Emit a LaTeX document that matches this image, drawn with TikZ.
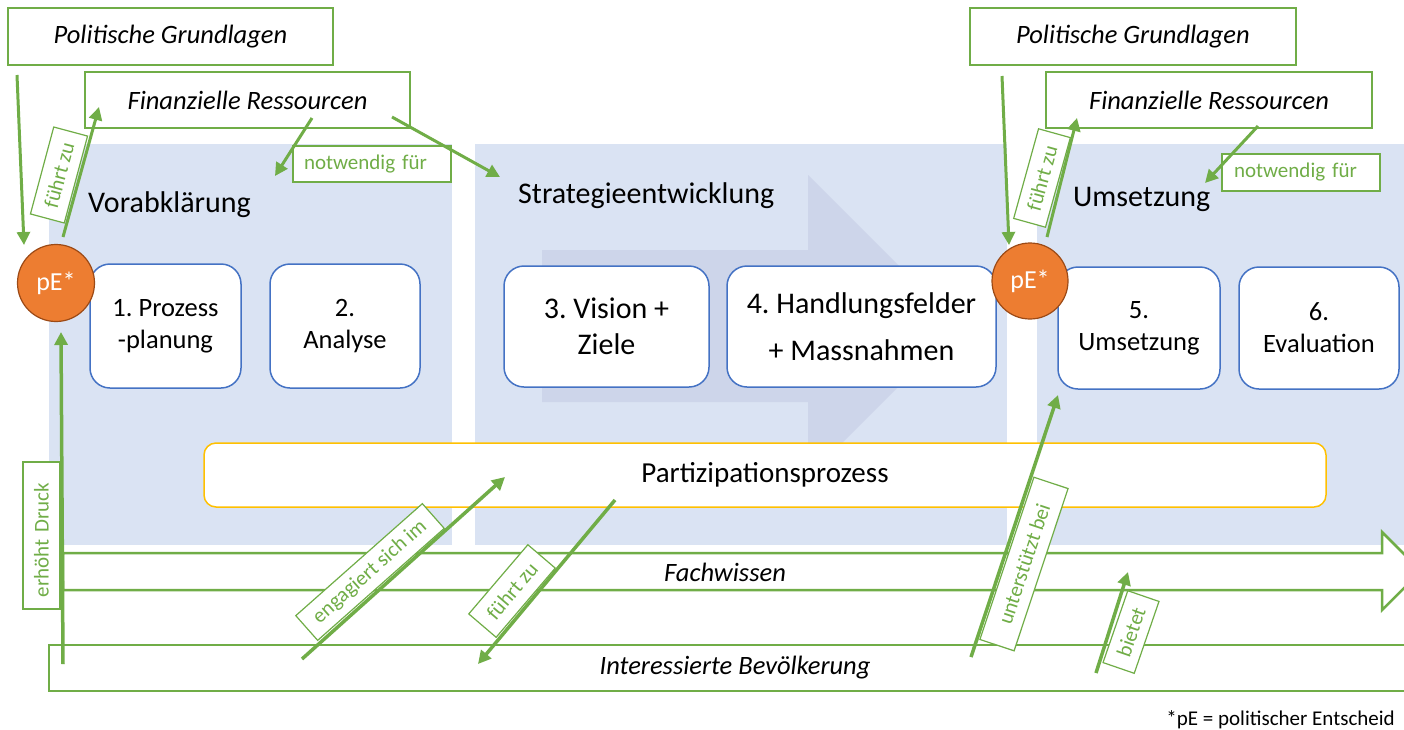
\documentclass[tikz,border=0pt]{standalone}
\usepackage{fontspec}
\setmainfont{Carlito}
\usetikzlibrary{arrows.meta}
\definecolor{panelblue}{HTML}{DAE3F3}
\definecolor{bgarrow}{HTML}{CDD5EA}
\definecolor{grn}{HTML}{70AD47}
\definecolor{boxblue}{HTML}{4472C4}
\definecolor{orng}{HTML}{ED7D31}
\definecolor{orngdark}{HTML}{9C4A16}
\definecolor{ylw}{HTML}{FFC000}
\frenchspacing
\begin{document}
\begin{tikzpicture}[x=1pt,y=-1pt,
  panel/.style={fill=panelblue},
  srcbox/.style={draw=grn, line width=2.5pt, fill=white, inner sep=0pt, font=\fontsize{26.5}{32}\selectfont\itshape},
  stepbox/.style={draw=boxblue, line width=1.5pt, fill=white, rounded corners=20pt, inner sep=0pt, align=center},
  smalltxt/.style={font=\fontsize{26.5}{32}\selectfont},
  largetxt/.style={font=\fontsize{30}{36}\selectfont},
  headtxt/.style={font=\fontsize{30}{36}\selectfont, anchor=base west, inner sep=0pt},
  pe/.style={circle, fill=orng, draw=orngdark, line width=1.2pt, minimum size=77pt, inner sep=0pt, text=white, font=\fontsize{26}{30}\selectfont},
  lbl/.style={draw=grn, line width=1.2pt, fill=white, text=grn, inner sep=0pt, font=\fontsize{21}{25}\selectfont, minimum height=35pt},
  arr/.style={draw=grn, line width=3.5pt, -{Triangle[length=13pt,width=13pt]}},
  flow/.style={draw=grn, line width=2.5pt, fill=white, line join=miter},
]
\useasboundingbox (0,0) rectangle (1404,729);
\clip (0,0) rectangle (1404,729);

% panels
\fill[panel] (49,144) rectangle (452,545);
\fill[panel] (475,144) rectangle (1007,545);
\fill[panel] (1037,144) rectangle (1412,545);

% background process arrow
\fill[bgarrow] (542,250) -- (808,250) -- (808,175) -- (959,326) -- (808,477) -- (808,402) -- (542,402) -- cycle;

% headings
\node[headtxt] (hVor) at (88,212) {Vorabklärung};
\node[headtxt] (hStr) at (518,203) {Strategieentwicklung};
\node[headtxt] (hUms) at (1073,206) {Umsetzung};

% source boxes
\node[srcbox, minimum width=325pt, minimum height=57pt] (pgL) at (170.5,36.5) {Politische Grundlagen};
\node[srcbox, minimum width=325pt, minimum height=56pt] (frL) at (247.5,100) {Finanzielle Ressourcen};
\node[srcbox, minimum width=326pt, minimum height=57pt] (pgR) at (1133,36.5) {Politische Grundlagen};
\node[srcbox, minimum width=326pt, minimum height=56pt] (frR) at (1209,100) {Finanzielle Ressourcen};

% step boxes
\node[stepbox, smalltxt, minimum width=151pt, minimum height=124pt] (b1) at (165.5,326) {1. Prozess\\-planung};
\node[stepbox, smalltxt, minimum width=150pt, minimum height=124pt] (b2) at (345,326) {2.\\Analyse};
\node[stepbox, largetxt, minimum width=205pt, minimum height=121pt] (b3) at (606.5,326.5) {3. Vision +\\Ziele};
\node[stepbox, largetxt, minimum width=269pt, minimum height=121pt] (b4) at (861.5,326.5) {4. Handlungsfelder\\[11pt]+ Massnahmen};
\node[stepbox, smalltxt, minimum width=162pt, minimum height=122pt] (b5) at (1139,328) {5.\\Umsetzung};
\node[stepbox, smalltxt, minimum width=160pt, minimum height=122pt] (b6) at (1319,328) {6.\\Evaluation};

% political decisions
\node[pe] (peL) at (56,283) {pE*};
\node[pe, minimum size=76pt] (peR) at (1030,281) {pE*};

% participation
\node[draw=ylw, line width=1.5pt, fill=white, rounded corners=12pt, minimum width=1122pt, minimum height=64pt, inner sep=0pt, font=\fontsize{29}{34}\selectfont] (part) at (765,475) {Partizipationsprozess};

% Fachwissen arrow
\draw[flow] (63,553) -- (1382,553) -- (1382,532) -- (1421,571) -- (1382,610) -- (1382,590) -- (63,590) -- cycle;
\node[font=\fontsize{26.5}{32}\selectfont\itshape, inner sep=0pt] (fach) at (725,572) {Fachwissen};

% Interessierte Bevoelkerung
\node[flow, minimum width=1363pt, minimum height=46pt, inner sep=0pt] (bev) at (730.5,668) {};
\node[font=\fontsize{26.5}{32}\selectfont\itshape, inner sep=0pt] (bevt) at (735,668) {Interessierte Bevölkerung};

% labels
\node[lbl, rotate=75, minimum width=90pt] (l1) at (59,175) {führt zu};
\node[lbl, minimum height=36pt, text width=136pt, inner xsep=11pt, align=left] (l2) at (372,164) {notwendig für};
\node[lbl, rotate=74.5, minimum width=93pt, minimum height=33pt] (l3) at (1042,178) {führt zu};
\node[lbl, minimum height=37pt, text width=134pt, inner xsep=12pt, align=left] (l4) at (1301,172.5) {notwendig für};
\node[lbl, rotate=90, minimum height=37pt, text width=123pt, inner xsep=12pt, align=left] (l5) at (41.5,535.5) {erhöht Druck};
\node[lbl, rotate=41.5, minimum width=169pt, minimum height=33pt] (l6) at (370,572) {engagiert sich im};
\node[lbl, rotate=49.5, minimum width=91pt, minimum height=36pt] (l7) at (512,591) {führt zu};
\node[lbl, rotate=71.6, minimum width=171pt, minimum height=36pt] (l8) at (1024,564) {unterstützt bei};
\node[lbl, rotate=71, minimum width=76pt, minimum height=33pt] (l9) at (1131,632) {bietet};

% connector end points
\coordinate (a1s) at (17,75);    \coordinate (a1e) at (24,245);
\coordinate (a2s) at (63,237);   \coordinate (a2e) at (99,107);
\coordinate (a3s) at (312,118);  \coordinate (a3e) at (275,176);
\coordinate (a4s) at (392,117);  \coordinate (a4e) at (500,177);
\coordinate (a5s) at (1002,76);  \coordinate (a5e) at (1009,245);
\coordinate (a6s) at (1047,237); \coordinate (a6e) at (1077,118);
\coordinate (a7s) at (1258,126); \coordinate (a7e) at (1205,183);
\coordinate (a8s) at (63,664);   \coordinate (a8e) at (61,332);
\coordinate (a9s) at (302,659);  \coordinate (a9e) at (505,477);
\coordinate (a10s) at (615,500); \coordinate (a10e) at (478,664);
\coordinate (a11s) at (971,657); \coordinate (a11e) at (1058,395);
\coordinate (a12s) at (1096,673);\coordinate (a12e) at (1128,572);

% connectors
\draw[arr, line width=3pt] (a1s) -- (a1e);
\draw[arr, line width=3pt] (a2s) -- (a2e);
\draw[arr, line width=3pt] (a3s) -- (a3e);
\draw[arr, line width=3pt] (a4s) -- (a4e);
\draw[arr, line width=3pt] (a5s) -- (a5e);
\draw[arr, line width=3pt] (a6s) -- (a6e);
\draw[arr, line width=3pt] (a7s) -- (a7e);
\draw[arr] (a8s) -- (a8e);
\draw[arr] (a9s) -- (a9e);
\draw[arr] (a10s) -- (a10e);
\draw[arr] (a11s) -- (a11e);
\draw[arr] (a12s) -- (a12e);

% footnote
\node[anchor=base east, inner sep=0pt, font=\fontsize{21}{25}\selectfont] (note) at (1395,725) {*pE = politischer Entscheid};
\end{tikzpicture}
\end{document}
